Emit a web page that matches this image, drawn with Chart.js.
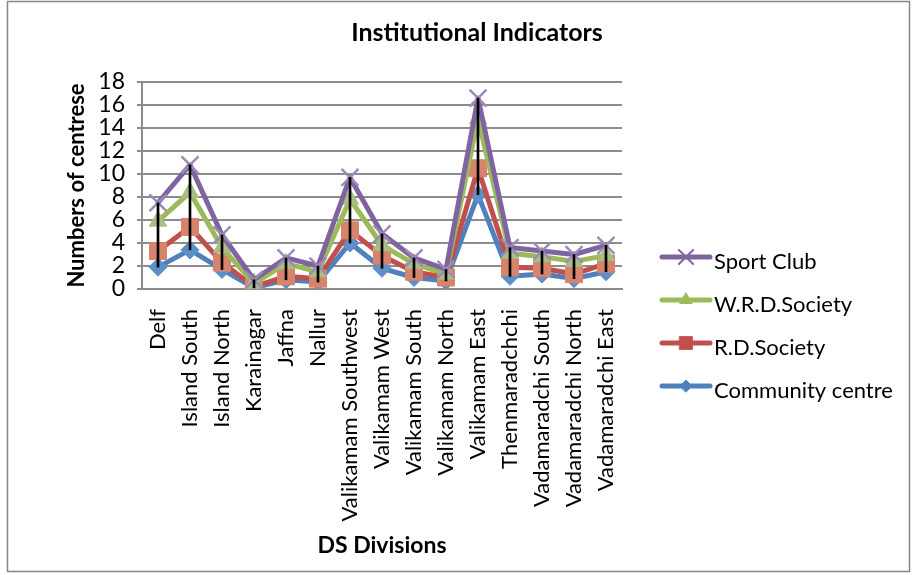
<!DOCTYPE html>
<html>
<head>
<meta charset="utf-8">
<script src="https://cdn.jsdelivr.net/npm/chart.js@4.4.1/dist/chart.umd.min.js"></script>
<style>
  html, body { margin: 0; padding: 0; background: #fff; }
  #wrap { width: 912px; height: 575px; }
</style>
</head>
<body>
<div id="wrap"><canvas id="chart" width="912" height="575"></canvas></div>
<script>
// Institutional Indicators by DS Division
const categories = ['Delf', 'Island South', 'Island North', 'Karainagar', 'Jaffna', 'Nallur',
    'Valikamam Southwest', 'Valikamam West', 'Valikamam South', 'Valikamam North',
    'Valikamam East', 'Thenmaradchchi', 'Vadamaradchi South', 'Vadamaradchi North', 'Vadamaradchi East'];

const communityCentre = [1.9, 3.4, 1.7, 0.1, 0.8, 0.6, 4.0, 1.8, 1.0, 0.7, 8.2, 1.1, 1.3, 0.9, 1.5];
const rdSociety       = [3.3, 5.4, 2.3, 0.2, 1.1, 0.9, 5.1, 2.9, 1.5, 1.0, 10.5, 1.9, 1.8, 1.3, 2.2];
const wrdSociety      = [5.9, 8.4, 3.6, 0.5, 2.2, 1.5, 7.8, 3.8, 2.2, 1.3, 14.8, 3.1, 2.8, 2.4, 2.9];
const sportClub       = [7.5, 10.8, 4.7, 0.8, 2.7, 2.0, 9.7, 4.8, 2.7, 1.7, 16.6, 3.6, 3.3, 3.0, 3.8];

const yMin = 0;
const yMax = 18;
const yStep = 2;

const chartTitle = 'Institutional Indicators';
const FONT = 'Lato, "Open Sans", sans-serif';

// high-low lines: from the lowest to the highest series at each division
const allSeries = [communityCentre, rdSociety, wrdSociety, sportClub];
const highLow = categories.map(function(_, i) {
    const vals = allSeries.map(function(s) { return s[i]; });
    return [Math.min.apply(null, vals), Math.max.apply(null, vals)];
});

const series = [
    { label: 'Sport Club', data: sportClub, line: '#8064A2', marker: '#9C8BB8', style: 'crossRot', radius: 12, bw: 2.5 },
    { label: 'W.R.D.Society', data: wrdSociety, line: '#9BBB59', marker: '#A9BD85', style: 'triangle', radius: 10, bw: 1 },
    { label: 'R.D.Society', data: rdSociety, line: '#C0504D', marker: '#D8836C', style: 'rect', radius: 12, bw: 1 },
    { label: 'Community centre', data: communityCentre, line: '#4F81BD', marker: '#5F8FC8', style: 'rectRot', radius: 9, bw: 1 }
];

// legend drawn by hand: a line sample with the marker on it, like the spreadsheet legend
const legendPlugin = {
    id: 'sideLegend',
    afterDraw: function(chart) {
        const ctx = chart.ctx;
        const lineY = [257, 300, 343, 386];
        ctx.save();
        series.forEach(function(s, i) {
            const y = lineY[i];
            ctx.strokeStyle = s.line;
            ctx.lineWidth = 5;
            ctx.lineCap = 'round';
            ctx.beginPath();
            ctx.moveTo(662, y);
            ctx.lineTo(710, y);
            ctx.stroke();

            ctx.fillStyle = s.line;
            ctx.strokeStyle = s.line;
            ctx.lineWidth = s.style === 'crossRot' ? 2 : 1;
            Chart.helpers.drawPoint(ctx, {
                pointStyle: s.style,
                radius: s.style === 'crossRot' ? 10 : s.radius - 3,
                rotation: 0,
                borderWidth: ctx.lineWidth
            }, 686, y);

            ctx.fillStyle = '#000';
            ctx.font = '22px ' + FONT;
            ctx.textBaseline = 'middle';
            ctx.textAlign = 'left';
            ctx.fillText(s.label, 714, y + 5);
        });
        ctx.restore();
    }
};

// white background, outer frame and the chart title centred on the whole frame
const framePlugin = {
    id: 'frame',
    beforeDraw: function(chart) {
        const ctx = chart.ctx;
        ctx.save();
        ctx.fillStyle = '#fff';
        ctx.fillRect(0, 0, chart.width, chart.height);
        ctx.strokeStyle = '#868686';
        ctx.lineWidth = 1.5;
        ctx.strokeRect(7.5, 1.5, 902, 570);
        ctx.fillStyle = '#000';
        ctx.font = 'bold 25px ' + FONT;
        ctx.textAlign = 'center';
        ctx.textBaseline = 'middle';
        ctx.fillText(chartTitle, 477, 33);
        ctx.restore();
    }
};

const datasets = series.map(function(s) {
    return {
        type: 'line',
        label: s.label,
        data: s.data,
        borderColor: s.line,
        borderWidth: 5,
        borderJoinStyle: 'round',
        borderCapStyle: 'round',
        tension: 0,
        fill: false,
        pointStyle: s.style,
        pointRadius: s.radius,
        pointHoverRadius: s.radius,
        pointBackgroundColor: s.marker,
        pointBorderColor: s.marker,
        pointBorderWidth: s.bw,
        order: 1
    };
});

datasets.push({
    type: 'bar',
    label: 'High-Low',
    data: highLow,
    backgroundColor: '#000',
    barThickness: 2,
    order: 0
});

new Chart(document.getElementById('chart').getContext('2d'), {
    data: {
        labels: categories,
        datasets: datasets
    },
    options: {
        responsive: false,
        animation: false,
        events: [],
        layout: {
            padding: { left: 10, right: 290, top: 82, bottom: 4 }
        },
        plugins: {
            legend: { display: false },
            tooltip: { enabled: false },
            title: { display: false }
        },
        scales: {
            x: {
                offset: true,
                grid: { display: false },
                border: { display: true, color: '#8c8c8c', width: 2 },
                ticks: {
                    color: '#000',
                    font: { family: FONT, size: 22 },
                    minRotation: 90,
                    maxRotation: 90,
                    autoSkip: false,
                    padding: 12
                },
                title: {
                    display: true,
                    text: 'DS Divisions',
                    color: '#000',
                    font: { family: FONT, size: 23, weight: 'bold' },
                    padding: { top: 0, bottom: 12 }
                },
                afterFit: function(scale) {
                    scale.height = 282;
                }
            },
            y: {
                min: yMin,
                max: yMax,
                ticks: {
                    stepSize: yStep,
                    autoSkip: false,
                    color: '#000',
                    font: { family: FONT, size: 23 },
                    padding: 12
                },
                grid: {
                    color: '#8c8c8c',
                    lineWidth: 2,
                    tickLength: 5
                },
                border: { display: true, color: '#8c8c8c', width: 2 },
                title: {
                    display: true,
                    text: 'Numbers of centrese',
                    color: '#000',
                    font: { family: FONT, size: 22, weight: 'bold' },
                    padding: { top: 54, bottom: 0 }
                },
                afterFit: function(scale) {
                    scale.width = 132;
                }
            }
        }
    },
    plugins: [framePlugin, legendPlugin]
});
</script>
</body>
</html>
